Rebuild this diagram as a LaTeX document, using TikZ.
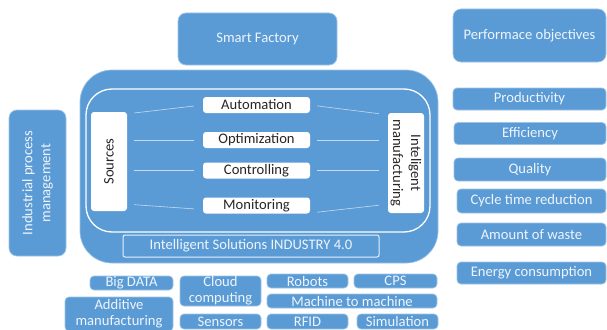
\documentclass[tikz,border=0pt]{standalone}
\usepackage{fontspec}
\setmainfont{Carlito}
\definecolor{boxblue}{HTML}{5B9BD5}
\definecolor{boxline}{HTML}{9DC3E6}
\definecolor{boxtext}{HTML}{EEF4FB}
\definecolor{linkline}{HTML}{C5DAF0}

\begin{document}
\begin{tikzpicture}[x=1pt, y=-1pt,
    blubox/.style={draw=boxline, line width=0.7pt, fill=boxblue, rounded corners=4pt,
      text=boxtext, inner sep=0pt, align=center, font=\fontsize{14.6}{16}\selectfont},
    whitebox/.style={fill=white, rounded corners=3pt, text=black!85, inner sep=0pt,
      align=center, font=\fontsize{14.6}{17}\selectfont},
    link/.style={draw=linkline, line width=0.6pt, shorten <=7pt, shorten >=9pt}]
  \path[use as bounding box, clip] (0,0) rectangle (607,329);

  \node[blubox, rounded corners=8pt, minimum width=159pt, minimum height=52pt] (smart) at (257.5,39) {Smart Factory};
  \node[blubox, rounded corners=8pt, minimum width=153pt, minimum height=53pt] (perf) at (529.5,35.5) {Performace objectives};

  \node[blubox, rounded corners=8pt, rotate=90, minimum width=146pt, minimum height=57pt, font=\fontsize{14.6}{18}\selectfont] (ipm) at (37.5,183) {Industrial process\\management};

  \node[blubox, rounded corners=32pt, minimum width=358pt, minimum height=193pt] (outer) at (259,166.5) {};
  \node[draw=white, line width=1.3pt, rounded corners=26pt, minimum width=344pt, minimum height=143pt] (inner) at (258,160.5) {};
  \node[blubox, draw=white!85!boxblue, line width=1pt, rounded corners=2pt, minimum width=256pt, minimum height=22pt] (ind) at (251,246) {Intelligent Solutions INDUSTRY 4.0};

  \node[whitebox, minimum width=107pt, minimum height=16pt] (auto) at (256.5,105) {Automation};
  \node[whitebox, minimum width=107pt, minimum height=16pt] (opt) at (256.5,140) {Optimization};
  \node[whitebox, minimum width=107pt, minimum height=16pt] (ctl) at (256.5,170.5) {Controlling};
  \node[whitebox, minimum width=107pt, minimum height=16pt] (mon) at (256.5,205.5) {Monitoring};
  \node[whitebox, rotate=90, minimum width=99pt, minimum height=36pt] (src) at (109,161.5) {Sources};
  \node[whitebox, rotate=-90, minimum width=100pt, minimum height=36pt, font=\fontsize{14.6}{18}\selectfont] (im) at (406,163) {Inteligent\\manufacturing};

  \draw[link] ([yshift=-2pt]src.south east) -- (auto.west);
  \draw[link] (src.south |- opt.west) -- (opt.west);
  \draw[link] (src.south |- ctl.west) -- (ctl.west);
  \draw[link] ([yshift=7pt]src.south west) -- ([yshift=-4pt]mon.west);
  \draw[link] (auto.east) -- ([yshift=-2pt]im.south west);
  \draw[link] (opt.east) -- (im.south |- opt.east);
  \draw[link] (ctl.east) -- (im.south |- ctl.east);
  \draw[link] ([yshift=-7.5pt]mon.east) -- ([yshift=9pt]im.south east);

  \node[blubox, minimum width=153pt, minimum height=22pt] (prod) at (529.5,99) {Productivity};
  \node[blubox, minimum width=152pt, minimum height=22pt] (eff) at (530,133.5) {Efficiency};
  \node[blubox, minimum width=152pt, minimum height=23pt] (qual) at (530,169.5) {Quality};
  \node[blubox, minimum width=149pt, minimum height=24pt] (cycle) at (531.5,201) {Cycle time reduction};
  \node[blubox, minimum width=149pt, minimum height=23pt] (waste) at (531.5,234.5) {Amount of waste};
  \node[blubox, minimum width=149pt, minimum height=22pt] (energy) at (531.5,273) {Energy consumption};

  \node[blubox, minimum width=83pt, minimum height=14pt] (bigdata) at (131.5,283) {Big DATA};
  \node[blubox, minimum width=81pt, minimum height=30pt] (cloud) at (220.5,291) {Cloud\\computing};
  \node[blubox, minimum width=81pt, minimum height=14pt] (robots) at (307.5,281) {Robots};
  \node[blubox, minimum width=83pt, minimum height=14pt] (cps) at (395.5,281) {CPS};
  \node[blubox, minimum width=170pt, minimum height=14pt] (m2m) at (352,301) {Machine to machine};
  \node[blubox, minimum width=108pt, minimum height=34pt] (additive) at (119,314) {Additive\\manufacturing};
  \node[blubox, minimum width=81pt, minimum height=15pt] (sensors) at (220.5,321.5) {Sensors};
  \node[blubox, minimum width=81pt, minimum height=15pt] (rfid) at (307.5,321.5) {RFID};
  \node[blubox, minimum width=81pt, minimum height=15pt] (sim) at (397.5,321.5) {Simulation};
\end{tikzpicture}
\end{document}
